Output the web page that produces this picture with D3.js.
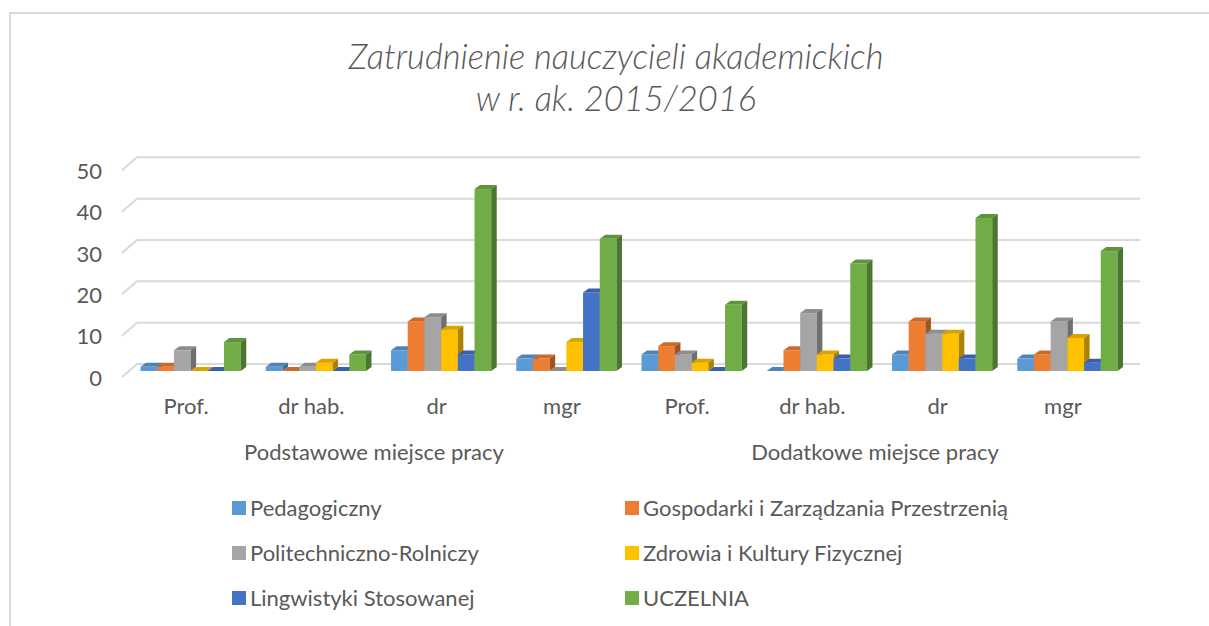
<!DOCTYPE html>
<html>
<head>
<meta charset="utf-8">
<script src="https://cdn.jsdelivr.net/npm/d3@7"></script>
<style>
  body { margin: 0; background: #fff; }
  svg text { font-family: Lato, "Open Sans", sans-serif; fill: #595959; }
</style>
</head>
<body>
<div id="chart"></div>
<script>
// categories and values
var categories = ["Prof.", "dr hab.", "dr", "mgr", "Prof.", "dr hab.", "dr", "mgr"];
var groupNames = ["Podstawowe miejsce pracy", "Dodatkowe miejsce pracy"];
var seriesNames = ["Pedagogiczny", "Gospodarki i Zarządzania Przestrzenią", "Politechniczno-Rolniczy",
                   "Zdrowia i Kultury Fizycznej", "Lingwistyki Stosowanej", "UCZELNIA"];
var seriesColors = ["#5B9BD5", "#ED7D31", "#A5A5A5", "#FFC000", "#4472C4", "#70AD47"];

var pedagogiczny   = [1, 1, 5, 3, 4, 0, 4, 3];
var gospodarki     = [1, 0, 12, 3, 6, 5, 12, 4];
var politechniczno = [5, 1, 13, 0, 4, 14, 9, 12];
var zdrowia        = [0, 2, 10, 7, 2, 4, 9, 8];
var lingwistyki    = [0, 0, 4, 19, 0, 3, 3, 2];
var uczelnia       = [7, 4, 44, 32, 16, 26, 37, 29];

var yTicks = [0, 10, 20, 30, 40, 50];

var allSeries = [pedagogiczny, gospodarki, politechniczno, zdrowia, lingwistyki, uczelnia];

var fullWidth = 1209;
var fullHeight = 626;

// 3d look: depth offset of the bars and of the wall
var depthX = 5.5, depthY = 4;
var wallX = 15, wallY = 13;
var frontShift = 7; // bar bottoms sit a bit lower than the back wall floor

var svg = d3.select("#chart").append("svg")
    .attr("width", fullWidth)
    .attr("height", fullHeight);

// chart frame
svg.append("rect")
    .attr("x", 10).attr("y", 13)
    .attr("width", 1300).attr("height", 800)
    .attr("fill", "none")
    .attr("stroke", "#d9d9d9")
    .attr("stroke-width", 2);

// title
var title = svg.append("text")
    .attr("text-anchor", "middle")
    .style("font-style", "italic")
    .style("font-weight", "300")
    .style("font-size", "34.5px");
title.append("tspan").attr("x", 616).attr("y", 69).text("Zatrudnienie nauczycieli akademickich");
title.append("tspan").attr("x", 616).attr("y", 111).text("w r. ak. 2015/2016");

var y = d3.scaleLinear()
    .domain([0, 50])
    .range([364, 157.3]);

var x0 = d3.scaleBand()
    .domain(d3.range(categories.length))
    .range([128, 1130])
    .paddingInner(0.2)
    .paddingOuter(0.1);

var x1 = d3.scaleBand()
    .domain(d3.range(seriesNames.length))
    .range([0, x0.bandwidth()]);

// gridlines on back wall with the little diagonal on the side wall
var gridStart = x0.range()[0] + 9;
svg.append("g").selectAll("polyline")
    .data(yTicks)
    .enter().append("polyline")
    .attr("points", function (d) {
        var yy = y(d);
        return [[gridStart - wallX, yy + wallY], [gridStart, yy], [1140, yy]].join(" ");
    })
    .attr("fill", "none")
    .attr("stroke", "#d9d9d9")
    .attr("stroke-width", 2);

// y axis labels at the front of the side wall
var yAxis = d3.axisLeft(y).tickValues(yTicks).tickSize(0).tickPadding(0);
var yAxisG = svg.append("g")
    .attr("class", "axis y")
    .attr("transform", "translate(102," + (wallY + 1) + ")")
    .call(yAxis);
yAxisG.select(".domain").remove();
yAxisG.selectAll("text")
    .style("font-family", "Lato, sans-serif")
    .style("font-size", "22px")
    .attr("fill", "#595959");

// bars
var bars = svg.append("g");
categories.forEach(function (cat, ci) {
    allSeries.forEach(function (vals, si) {
        var v = vals[ci];
        var left = x0(ci) + x1(si);
        var w = x1.bandwidth();
        var bottom = y(0) + frontShift;
        var top = y(v) + frontShift;
        var c = d3.color(seriesColors[si]);
        var g = bars.append("g");
        // front face
        g.append("rect")
            .attr("x", left).attr("y", top)
            .attr("width", w).attr("height", bottom - top)
            .attr("fill", c.formatHex());
        // top face
        g.append("polygon")
            .attr("points", [[left, top], [left + depthX, top - depthY],
                             [left + w + depthX, top - depthY], [left + w, top]].join(" "))
            .attr("fill", c.darker(0.45).formatHex());
        // side face
        g.append("polygon")
            .attr("points", [[left + w, top], [left + w + depthX, top - depthY],
                             [left + w + depthX, bottom - depthY], [left + w, bottom]].join(" "))
            .attr("fill", c.darker(1.1).formatHex());
    });
});

// category labels
var labelShift = -4.5;
var xAxis = d3.axisBottom(x0)
    .tickFormat(function (i) { return categories[i]; })
    .tickSize(0)
    .tickPadding(0);
var xAxisG = svg.append("g")
    .attr("class", "axis x")
    .attr("transform", "translate(" + labelShift + ",398)")
    .call(xAxis);
xAxisG.select(".domain").remove();
xAxisG.selectAll("text")
    .style("font-family", "Lato, sans-serif")
    .style("font-size", "22px")
    .attr("fill", "#595959");

// group labels
svg.append("g").selectAll("text")
    .data(groupNames)
    .enter().append("text")
    .attr("text-anchor", "middle")
    .attr("x", function (d, gi) {
        var a = x0(gi * 4) + x0.bandwidth() / 2;
        var b = x0(gi * 4 + 3) + x0.bandwidth() / 2;
        return (a + b) / 2 + labelShift;
    })
    .attr("y", 460)
    .style("font-size", "22px")
    .text(function (d) { return d; });

// legend, two columns
var legendCols = [232, 625];
var legendRows = [508, 553, 598];
var legend = svg.append("g").selectAll("g")
    .data(seriesNames)
    .enter().append("g")
    .attr("transform", function (d, i) {
        return "translate(" + legendCols[i % 2] + "," + legendRows[Math.floor(i / 2)] + ")";
    });
legend.append("rect")
    .attr("x", 0).attr("y", -7)
    .attr("width", 14).attr("height", 14)
    .attr("fill", function (d, i) { return seriesColors[i]; });
legend.append("text")
    .attr("x", 18).attr("y", 8)
    .style("font-size", "22px")
    .text(function (d) { return d; });
</script>
</body>
</html>
